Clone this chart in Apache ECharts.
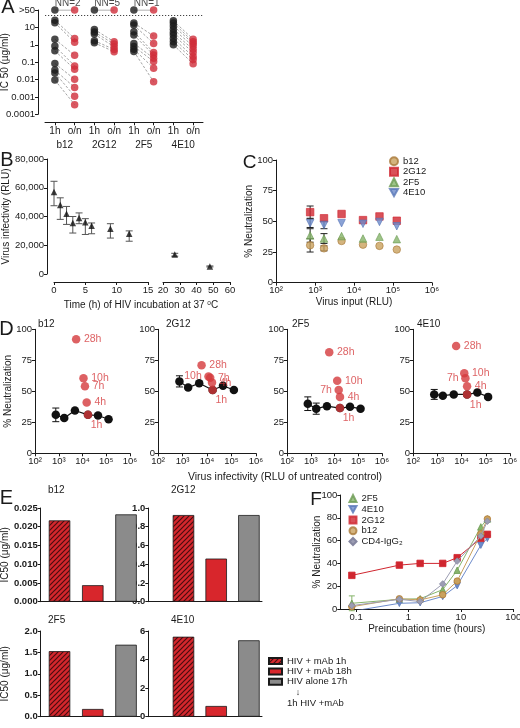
<!DOCTYPE html>
<html><head><meta charset="utf-8">
<script src="https://cdn.jsdelivr.net/npm/echarts@6/dist/echarts.min.js"></script>
<style>html,body{margin:0;padding:0;background:#fff}#c{width:520px;height:728px}</style>
</head><body><div id="c"></div>
<script>
// ================= DATA =================
// Panel A : IC50 (ug/ml), pairs 1h -> overnight
const aAntibodies = ['b12','2G12','2F5','4E10'];
const aTimes = ['1h','o/n'];
const aNN = [2,5,1,0];
const aNNValue = 100;          // plotted on the ">50" row
const aNNLine = 50;            // dotted cut-off line
const aB12_1h  = [26, 18.5, 2.1, 0.84, 0.45, 0.084, 0.035, 0.024, 0.0093];
const aB12_on  = [2.3, 1.4, 0.25, 0.061, 0.039, 0.0104, 0.0035, 0.0011, 0.00036];
const a2G12_1h = [7.6, 5.4, 4.1, 1.7, 1.3];
const a2G12_on = [1.5, 1.1, 0.77, 0.54, 0.4];
const a2F5_1h  = [18, 13.5, 5.6, 3.6, 1.2, 0.8, 0.55, 0.41];
const a2F5_on  = [3.2, 1.2, 0.36, 0.26, 0.17, 0.11, 0.045, 0.0075];
const a4E10_1h = [24, 18, 12, 7.7, 5, 3.6, 2.3, 1.5, 1.0];
const a4E10_on = [2.1, 1.5, 1.2, 0.85, 0.55, 0.36, 0.21, 0.14, 0.08];

// Panel B : virus infectivity vs incubation time
const bTime = [0,1,2,3,4,5,6,9,12,27,48];
const bMean = [57000,48000,42000,35500,39000,36000,33500,31500,28000,13500,5300];
const bLow  = [47500,38000,34500,28500,35000,27500,28000,25000,22800,12400,4900];
const bHigh = [64500,53000,47000,40000,42500,38500,35500,35000,30000,14400,5600];

// Panel C : % neutralization vs virus input
const cInput = [750,1700,4800,17000,45000,125000];
const cB12  = [30.5,28,34,31,30,27];
const c2G12 = [57.5,52.5,56,51,54,50.5];
const c2F5  = [38.5,36,38,36,37.5,35.5];
const c4E10 = [48.5,47,48.5,48,49.5,46];
const cB12Err  = [5.5,2,0,0,0,0];
const c2G12Err = [5,0,0,0,0,0];
const c2F5Err  = [5.5,4,0,0,0,0];
const c4E10Err = [3.5,3,0,0,0,0];

// Panel D : % neutralization vs infectivity
const dInput = [750,1700,4800,17000,45000,125000];
const dB12  = [31,28.5,34.5,31,30.5,27.5];
const d2G12 = [58,53,56.5,51,54.5,51];
const d2F5  = [40,36,38,36.5,37.5,36];
const d4E10 = [47.5,46.5,47.5,47.5,49,45.5];
const dB12Err  = [5.5,0,0,0,0,0];
const d2G12Err = [4.5,0,0,0,0,0];
const d2F5Err  = [5.5,4.5,0,0,0,0];
const d4E10Err = [4,0,0,0,0,0];
const dHours = ['28h','10h','7h','4h','1h'];
const dB12RedX  = [5400,11000,12700,15000,17000];
const dB12RedY  = [92,60.5,54,41,31];
const d2G12RedX = [6000,11500,13500,16000,17000];
const d2G12RedY = [71,62,61,57,51];
const d2F5RedX  = [6000,13000,15000,17000,17000];
const d2F5RedY  = [81.5,58.5,51,45.5,36.5];
const d4E10RedX = [6000,13000,14500,17000,17000];
const d4E10RedY = [86.5,64.5,60.5,54,47.5];

// Panel E : IC50 bars
const eCond = ['HIV + mAb 1h','HIV + mAb 18h','HIV alone 17h'];
const eB12  = [0.0217,0.0044,0.0233];
const e2G12 = [0.925,0.46,0.925];
const e2F5  = [1.53,0.18,1.68];
const e4E10 = [5.6,0.75,5.35];

// Panel F : % neutralization vs preincubation time
const fTime = [0.083,0.67,1.67,4.5,8.5,24,32];
const f2F5  = [5,8.5,9,17,34,72,79];
const f4E10 = [-2,5,5.5,11,20.5,56,62];
const f2G12 = [29.5,38.5,40,40,45,62,65.5];
const fB12  = [2,9,8,12.5,24.5,66,79];
const fCD4  = [3,8.5,6.5,22,42,64,77];
const f2F5Err = [6.5,0,0,0,0,0,0];

// ================= STYLE / HELPERS =================
const FONT = "'Liberation Sans', Arial, Helvetica, sans-serif";
const INK = '#1a1a1a';
const RED = '#d0262f', TAN = '#c9a15e', GREEN = '#86b46a', BLUE = '#6d8bcb', GREY = '#9c9db3';
const DOWN = 'path://M0,0L10,0L5,9Z';
const SUP = {'0':'⁰','1':'¹','2':'²','3':'³','4':'⁴','5':'⁵','6':'⁶','7':'⁷','8':'⁸','9':'⁹'};
const pow10Label = v => '10' + String(Math.round(Math.log10(v))).split('').map(c => SUP[c]).join('');
const numLabel = v => String(Number((+v).toPrecision(2)));

function merge(a, b) {
  for (const k in b) {
    const bv = b[k];
    if (bv && typeof bv === 'object' && !Array.isArray(bv) && !(bv instanceof HTMLCanvasElement) &&
        a[k] && typeof a[k] === 'object' && !Array.isArray(a[k])) merge(a[k], bv);
    else a[k] = bv;
  }
  return a;
}
function axis(extra) {
  return merge({
    axisLine: {show: true, onZero: false, lineStyle: {color: INK, width: 1}},
    axisTick: {show: true, length: 3, lineStyle: {color: INK, width: 1}},
    axisLabel: {color: INK, fontSize: 9.5, fontFamily: FONT, margin: 3},
    splitLine: {show: false},
    minorTick: {show: false},
    nameLocation: 'middle',
    nameMoveOverlap: false,
    nameTextStyle: {color: INK, fontSize: 10, fontFamily: FONT}
  }, extra);
}
const grids = [], xAxes = [], yAxes = [], series = [], graphics = [];
function addGrid(left, top, width, height) {
  grids.push({left, top, width, height, containLabel: false, outerBoundsMode: 'none'});
  return grids.length - 1;
}
function addX(o) { xAxes.push(axis(o)); return xAxes.length - 1; }
function addY(o) { yAxes.push(axis(o)); return yAxes.length - 1; }
function errSeries(xi, yi, pts, color, capW) {
  return {
    type: 'custom', xAxisIndex: xi, yAxisIndex: yi, silent: true, z: 2, clip: false,
    data: pts, encode: {x: 0, y: [1, 2]},
    renderItem(params, api) {
      const x = api.value(0), lo = api.value(1), hi = api.value(2);
      const p1 = api.coord([x, lo]), p2 = api.coord([x, hi]);
      const st = {stroke: color, lineWidth: 1};
      return {type: 'group', children: [
        {type: 'line', shape: {x1: p1[0], y1: p1[1], x2: p2[0], y2: p2[1]}, style: st},
        {type: 'line', shape: {x1: p1[0]-capW, y1: p1[1], x2: p1[0]+capW, y2: p1[1]}, style: st},
        {type: 'line', shape: {x1: p2[0]-capW, y1: p2[1], x2: p2[0]+capW, y2: p2[1]}, style: st}
      ]};
    }
  };
}
function text(x, y, str, o) {
  const s = merge({text: str, fontSize: 10, fontFamily: FONT, fill: INK,
    align: 'left', verticalAlign: 'middle', textAlign: 'left', textVerticalAlign: 'middle'}, o || {});
  graphics.push({type: 'text', x, y, silent: true, style: s});
}
function hatchPattern() {
  const c = document.createElement('canvas'); c.width = 5; c.height = 5;
  const g = c.getContext('2d');
  g.fillStyle = '#d4272d'; g.fillRect(0, 0, 5, 5);
  g.strokeStyle = '#4a0c10'; g.lineWidth = 1.2;
  g.beginPath();
  g.moveTo(-1, 6); g.lineTo(6, -1);
  g.moveTo(-3.5, 3.5); g.lineTo(3.5, -3.5);
  g.moveTo(1.5, 8.5); g.lineTo(8.5, 1.5);
  g.stroke();
  return c;
}

// ================= PANEL A =================
const gA = addGrid(45, 10, 158, 104.3);
const aCats = [];
aAntibodies.forEach(ab => aTimes.forEach(t => aCats.push(ab + '|' + t)));
const xA = addX({gridIndex: gA, type: 'category', data: aCats, position: 'bottom', offset: 8,
  axisTick: {alignWithLabel: true, length: 3},
  axisLabel: {fontSize: 10, margin: 4, interval: 0, formatter: v => v.split('|')[1]}});
addX({gridIndex: gA, type: 'category', data: aAntibodies, position: 'bottom', offset: 22,
  axisLine: {show: false}, axisTick: {show: false}, axisLabel: {fontSize: 10, margin: 4, interval: 0}});
const yA = addY({gridIndex: gA, type: 'log', logBase: 10, min: 0.0001, max: 100, offset: 7,
  axisLabel: {formatter: v => v >= 99 ? '>50' : numLabel(v)},
  name: 'IC 50 (µg/ml)', nameGap: 28});
const aPairs = [[aB12_1h, aB12_on], [a2G12_1h, a2G12_on], [a2F5_1h, a2F5_on], [a4E10_1h, a4E10_on]];
const aBlack = [], aRed = [];
aPairs.forEach(([h, o], i) => {
  h.forEach((v, k) => {
    series.push({type: 'line', xAxisIndex: xA, yAxisIndex: yA, data: [[2*i, v], [2*i+1, o[k]]],
      symbol: 'none', silent: true, z: 1, lineStyle: {color: '#8d8d8d', width: 0.8, type: [2.5, 1.8]}});
    aBlack.push([2*i, v]); aRed.push([2*i+1, o[k]]);
  });
  if (aNN[i] > 0) {
    series.push({type: 'line', xAxisIndex: xA, yAxisIndex: yA, data: [[2*i, aNNValue], [2*i+1, aNNValue]],
      symbol: 'none', silent: true, z: 1, lineStyle: {color: '#8d8d8d', width: 0.9}});
    aBlack.push([2*i, aNNValue]);
    aRed.push({value: [2*i+1, aNNValue], label: {show: true, formatter: 'NN=' + aNN[i], position: 'inside',
      offset: [-7, -6.5], color: INK, fontSize: 10, fontFamily: FONT}});
  }
});
series.push({type: 'scatter', xAxisIndex: xA, yAxisIndex: yA, data: aBlack, symbolSize: 7.5,
  itemStyle: {color: '#1b1b1b'}, z: 3, silent: true});
series.push({type: 'scatter', xAxisIndex: xA, yAxisIndex: yA, data: aRed, symbolSize: 7.5,
  itemStyle: {color: '#cf2d3a'}, z: 4, silent: true,
  markLine: {silent: true, symbol: 'none', label: {show: false},
    lineStyle: {type: [1.2, 1.8], color: '#444', width: 1}, data: [{yAxis: aNNLine}]}});

// ================= PANEL B =================
const gB1 = addGrid(54, 159, 94, 115), gB2 = addGrid(163, 159, 67, 115);
const xB1 = addX({gridIndex: gB1, type: 'value', min: 0, max: 15, interval: 5, offset: 8});
const xB2 = addX({gridIndex: gB2, type: 'value', min: 20, max: 60, interval: 10, offset: 8});
const yB1 = addY({gridIndex: gB1, type: 'value', min: 0, max: 80000, interval: 20000, offset: 7,
  name: 'Virus infectivity (RLU)', nameGap: 36});
const yB2 = addY({gridIndex: gB2, type: 'value', min: 0, max: 80000, interval: 20000, show: false});
[[xB1, yB1, t => t <= 15], [xB2, yB2, t => t > 15]].forEach(([xi, yi, f]) => {
  const idx = bTime.map((t, k) => k).filter(k => f(bTime[k]));
  series.push({type: 'scatter', xAxisIndex: xi, yAxisIndex: yi, data: idx.map(k => [bTime[k], bMean[k]]),
    symbol: 'triangle', symbolSize: 6.5, itemStyle: {color: '#111'}, z: 3, silent: true});
  series.push(errSeries(xi, yi, idx.map(k => [bTime[k], bLow[k], bHigh[k]]), '#555', 3.5));
});

// ================= PANEL C =================
const gC = addGrid(276, 160, 156, 122.7);
const xC = addX({gridIndex: gC, type: 'log', logBase: 10, min: 100, max: 1e6,
  axisLabel: {formatter: pow10Label}, name: 'Virus input (RLU)', nameGap: 15});
const yC = addY({gridIndex: gC, type: 'value', min: 0, max: 100, interval: 25,
  name: '% Neutralization', nameGap: 22});
const cDefs = [
  {name: 'b12', vals: cB12, err: cB12Err, symbol: 'circle', color: TAN, border: '#a9793a'},
  {name: '2G12', vals: c2G12, err: c2G12Err, symbol: 'rect', color: RED, border: RED},
  {name: '2F5', vals: c2F5, err: c2F5Err, symbol: 'triangle', color: GREEN, border: '#6b9a52'},
  {name: '4E10', vals: c4E10, err: c4E10Err, symbol: DOWN, color: BLUE, border: '#5a78b8'}
];
cDefs.forEach(d => {
  series.push({type: 'scatter', name: d.name, xAxisIndex: xC, yAxisIndex: yC,
    data: cInput.map((x, k) => [x, d.vals[k]]), symbol: d.symbol, symbolSize: 7.5,
    itemStyle: {color: d.color, borderColor: d.border, borderWidth: 0.8}, z: 3});
  series.push(errSeries(xC, yC, cInput.map((x, k) => [x, d.vals[k] - d.err[k], d.vals[k] + d.err[k]])
    .filter((p, k) => d.err[k] > 0), '#222', 3.5));
});

// ================= PANEL D =================
const dPanels = [
  {title: 'b12', left: 35, width: 95, black: dB12, err: dB12Err, rx: dB12RedX, ry: dB12RedY,
   pos: ['right','right','right','right','below'], tx: 38},
  {title: '2G12', left: 158, width: 98, black: d2G12, err: d2G12Err, rx: d2G12RedX, ry: d2G12RedY,
   pos: ['right','left','right','right','below'], tx: 166},
  {title: '2F5', left: 287, width: 95, black: d2F5, err: d2F5Err, rx: d2F5RedX, ry: d2F5RedY,
   pos: ['right','right','left','right','below'], tx: 292},
  {title: '4E10', left: 413, width: 97, black: d4E10, err: d4E10Err, rx: d4E10RedX, ry: d4E10RedY,
   pos: ['right','right','left','right','below'], tx: 417}
];
const D_RED = '#d43a3c';
dPanels.forEach((p, i) => {
  const g = addGrid(p.left, 329.3, p.width, 124);
  const xi = addX({gridIndex: g, type: 'log', logBase: 10, min: 100, max: 1e6, axisLabel: {formatter: pow10Label}});
  const yi = addY({gridIndex: g, type: 'value', min: 0, max: 100, interval: 25,
    name: i === 0 ? '% Neutralization' : '', nameGap: 22});
  series.push({type: 'line', name: 'D ' + p.title, xAxisIndex: xi, yAxisIndex: yi,
    data: dInput.map((x, k) => [x, p.black[k]]), symbol: 'circle', symbolSize: 8.5, showSymbol: true,
    itemStyle: {color: '#111'}, lineStyle: {color: '#111', width: 1.2}, z: 3, silent: true});
  series.push(errSeries(xi, yi, dInput.map((x, k) => [x, p.black[k] - p.err[k], p.black[k] + p.err[k]])
    .filter((q, k) => p.err[k] > 0), '#111', 3.5));
  series.push({type: 'scatter', name: 'D red ' + p.title, xAxisIndex: xi, yAxisIndex: yi, z: 5, silent: true,
    symbolSize: 8.5, itemStyle: {color: D_RED},
    data: p.rx.map((x, k) => {
      const lab = {show: true, formatter: dHours[k], color: D_RED, fontSize: 10.5, fontFamily: FONT};
      if (p.pos[k] === 'below') lab.position = [7, 9];
      else { lab.position = p.pos[k]; lab.distance = p.pos[k] === 'left' ? 2.5 : 3.5; }
      return {value: [x, p.ry[k]], label: lab};
    })});
  text(p.tx, 324, p.title, {fontSize: 10});
});
text(285, 477, 'Virus infectivity (RLU of untreated control)', {align: 'center', textAlign: 'center', fontSize: 10.5});

// ================= PANEL E =================
const HATCH = hatchPattern();
const eFills = [{image: HATCH, repeat: 'repeat'}, '#d8262c', '#8b8b8b'];
const ePanels = [
  {title: 'b12', vals: eB12, left: 40.7, top: 508, width: 99.3, height: 93.7, xmin: -0.566, xmax: 2.42, max: 0.025, interval: 0.005, dec: 3, yname: true, tx: 48, ty: 490},
  {title: '2G12', vals: e2G12, left: 148.3, top: 508, width: 113.7, height: 93.7, xmin: -1.075, xmax: 2.4, max: 1, interval: 0.2, dec: 1, yname: false, tx: 171, ty: 490},
  {title: '2F5', vals: e2F5, left: 40.7, top: 631, width: 99.3, height: 85.7, xmin: -0.566, xmax: 2.42, max: 2, interval: 0.5, dec: 1, yname: true, tx: 48, ty: 620},
  {title: '4E10', vals: e4E10, left: 148.3, top: 631, width: 113.7, height: 85.7, xmin: -1.075, xmax: 2.4, max: 6, interval: 2, dec: 0, yname: false, tx: 171, ty: 620}
];
ePanels.forEach(p => {
  const g = addGrid(p.left, p.top, p.width, p.height);
  const xi = addX({gridIndex: g, type: 'value', min: p.xmin, max: p.xmax, axisTick: {show: false}, axisLabel: {show: false}});
  const yi = addY({gridIndex: g, type: 'value', min: 0, max: p.max, interval: p.interval,
    axisLabel: {formatter: v => (+v).toFixed(p.dec), fontWeight: 'bold'},
    name: p.yname ? 'IC50 (μg/ml)' : '', nameGap: 30});
  eCond.forEach((c, k) => series.push({type: 'bar', name: c, xAxisIndex: xi, yAxisIndex: yi,
    data: [[k, p.vals[k]]], barWidth: 21.5, barGap: '-100%', silent: true,
    itemStyle: {color: eFills[k], borderColor: '#1a1a1a', borderWidth: 0.8}}));
  text(p.tx, p.ty, p.title, {fontSize: 10});
});
text(298, 692.5, '↓', {align: 'center', textAlign: 'center', fontSize: 9});
text(287, 703.3, '1h HIV +mAb', {fontSize: 9.5});

// ================= PANEL F =================
const gF = addGrid(340.3, 495, 173, 114);
const xF = addX({gridIndex: gF, type: 'log', logBase: 10, min: 0.05, max: 100,
  axisLabel: {formatter: numLabel, showMinLabel: false}, name: 'Preincubation time (hours)', nameGap: 15});
const yF = addY({gridIndex: gF, type: 'value', min: 0, max: 100, interval: 20,
  name: '% Neutralization', nameGap: 18});
const fDefs = [
  {name: '2F5', vals: f2F5, symbol: 'triangle', color: GREEN, border: '#6b9a52'},
  {name: '4E10', vals: f4E10, symbol: DOWN, color: BLUE, border: '#5a78b8'},
  {name: '2G12', vals: f2G12, symbol: 'rect', color: RED, border: RED},
  {name: 'b12', vals: fB12, symbol: 'circle', color: TAN, border: '#b07a35'},
  {name: 'CD4-IgG₂', vals: fCD4, symbol: 'diamond', color: GREY, border: '#8586a0'}
];
fDefs.forEach((d, i) => {
  series.push({type: 'line', name: d.name, xAxisIndex: xF, yAxisIndex: yF,
    data: fTime.map((t, k) => [t, d.vals[k]]), symbol: d.symbol, symbolSize: 6.5, showSymbol: true,
    itemStyle: {color: d.color, borderColor: d.border, borderWidth: 0.8},
    lineStyle: {color: d.color, width: 1}, z: 3 + i, silent: true});
});
series.push(errSeries(xF, yF, fTime.map((t, k) => [t, f2F5[k] - f2F5Err[k], f2F5[k] + f2F5Err[k]])
  .filter((q, k) => f2F5Err[k] > 0), GREEN, 3));

// ================= LETTERS / TITLES =================
const letter = (x, y, s, fs) => text(x, y, s, {align: 'center', textAlign: 'center', fontSize: fs || 20});
letter(8, 7, 'A'); letter(7, 160, 'B'); letter(249.5, 163, 'C', 19);
letter(6.5, 329, 'D'); letter(6.5, 498, 'E'); letter(316, 500, 'F', 19);
graphics.push({type: 'text', x: 141, y: 305.7, silent: true, style: {
  text: '{a|Time (h) of HIV incubation at 37 }{s|o}{a|C}', fontFamily: FONT, fill: INK,
  align: 'center', verticalAlign: 'middle', textAlign: 'center', textVerticalAlign: 'middle',
  rich: {a: {fontSize: 10, fontFamily: FONT, fill: INK, lineHeight: 12},
         s: {fontSize: 6.5, fontFamily: FONT, fill: INK, verticalAlign: 'top', lineHeight: 12}}}});

// ================= LEGENDS =================
const legendText = {color: INK, fontSize: 9.5, fontFamily: FONT, lineHeight: 9};
const legends = [
  {data: [{name: 'b12', icon: 'circle'}, {name: '2G12', icon: 'rect'}, {name: '2F5', icon: 'triangle'}, {name: '4E10', icon: DOWN}],
   orient: 'vertical', left: 389, top: 156.2, itemWidth: 8, itemHeight: 8, itemGap: 0.5, selectedMode: false,
   textStyle: merge({}, legendText, {fontSize: 10}), padding: 0},
  {data: eCond.map(n => ({name: n, icon: 'rect'})), orient: 'vertical', left: 268, top: 656, itemWidth: 13, itemHeight: 6,
   itemGap: 0.4, selectedMode: false, padding: 0, textStyle: merge({}, legendText, {lineHeight: 11})},
  {data: [{name: '2F5', icon: 'triangle'}, {name: '4E10', icon: DOWN}, {name: '2G12', icon: 'rect'},
          {name: 'b12', icon: 'circle'}, {name: 'CD4-IgG₂', icon: 'diamond'}],
   orient: 'vertical', left: 348.5, top: 493.5, itemWidth: 7, itemHeight: 7, itemGap: 0.75, selectedMode: false,
   padding: 0, textStyle: legendText}
];

const chart = echarts.init(document.getElementById('c'), null, {renderer: 'canvas', width: 520, height: 728});
chart.setOption({
  animation: false,
  backgroundColor: '#fff',
  textStyle: {fontFamily: FONT},
  grid: grids, xAxis: xAxes, yAxis: yAxes, series: series,
  legend: legends,
  graphic: {elements: graphics}
});
</script></body></html>
